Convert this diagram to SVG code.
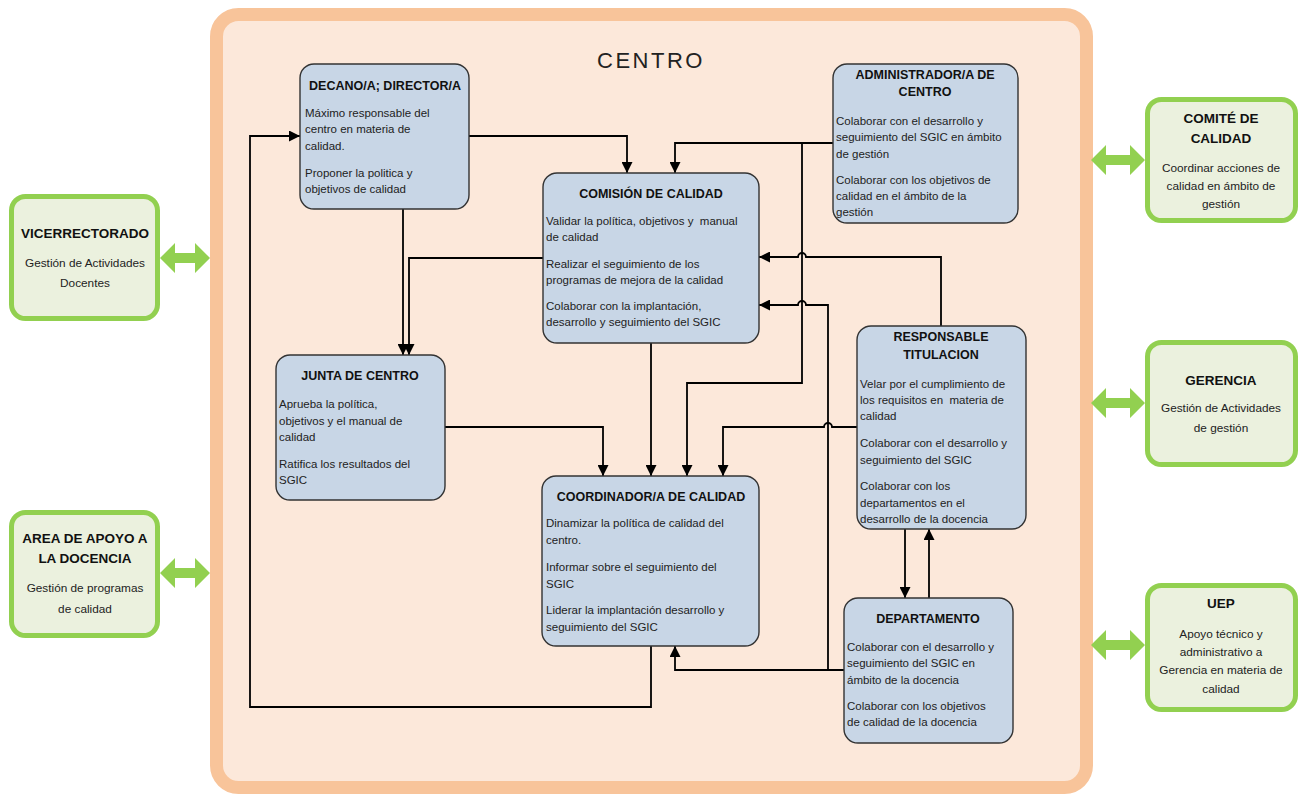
<svg xmlns="http://www.w3.org/2000/svg" width="1304" height="795" viewBox="0 0 1304 795">
<defs>
<style>
.box{fill:#C8D6E6;stroke:#333;stroke-width:1.4}
.gbox{fill:#EBF1DE;stroke:#92D050;stroke-width:5}
.t{font-family:"Liberation Sans",Arial,sans-serif;font-size:12.5px;font-weight:bold;fill:#111;text-anchor:middle}
.b{font-family:"Liberation Sans",Arial,sans-serif;font-size:11.5px;fill:#222;white-space:pre}
.gt{font-family:"Liberation Sans",Arial,sans-serif;font-size:13.5px;font-weight:bold;fill:#111;text-anchor:middle}
.gb{font-family:"Liberation Sans",Arial,sans-serif;font-size:11.8px;fill:#222;text-anchor:middle}
.c{fill:none;stroke:#000;stroke-width:1.8}
.da{fill:#92D050}
</style>
<marker id="ah" viewBox="0 0 10 10" refX="10" refY="5" markerWidth="11" markerHeight="11" markerUnits="userSpaceOnUse" orient="auto"><path d="M0,0 L10,5 L0,10 z" fill="#000"/></marker>
</defs>
<rect width="1304" height="795" fill="#fff"/>
<g id="centro">
<rect x="216.5" y="14.5" width="870" height="773" rx="22" fill="#FCE8DA" stroke="#F8C49A" stroke-width="13"/>
<text x="651" y="68" font-family="'Liberation Sans',Arial,sans-serif" font-size="22" letter-spacing="2.5" fill="#222" text-anchor="middle">CENTRO</text>
</g>
<g id="connectors">
<path class="c" d="M469,136 H627 V173" marker-end="url(#ah)"/>
<path class="c" d="M651,646 V707 H250 V136 H300" marker-end="url(#ah)"/>
<path class="c" d="M403,209 V355" marker-end="url(#ah)"/>
<path class="c" d="M543,258 H409 V355" marker-end="url(#ah)"/>
<path class="c" d="M833,143 H675 V173" marker-end="url(#ah)"/>
<path class="c" d="M802,143 V383 H687 V476" marker-end="url(#ah)"/>
<path class="c" d="M941,326 V257 H806 A4,4 0 0 0 798,257 H759" marker-end="url(#ah)"/>
<path class="c" d="M844,670 H675 V646" marker-end="url(#ah)"/>
<path class="c" d="M828,670 V305 H806 A4,4 0 0 0 798,305 H759" marker-end="url(#ah)"/>
<path class="c" d="M857,427 H832 A4,4 0 0 0 824,427 H723 V476" marker-end="url(#ah)"/>
<path class="c" d="M651,343 V476" marker-end="url(#ah)"/>
<path class="c" d="M445,427 H603 V476" marker-end="url(#ah)"/>
<path class="c" d="M905,529 V598" marker-end="url(#ah)"/>
<path class="c" d="M929,598 V529" marker-end="url(#ah)"/>
<polygon class="da" points="160,258 175,243 175,253 195,253 195,243 210,258 195,273 195,263 175,263 175,273"/>
<polygon class="da" points="160,573 175,558 175,568 195,568 195,558 210,573 195,588 195,578 175,578 175,588"/>
<polygon class="da" points="1091,160 1106,145 1106,155 1130,155 1130,145 1145,160 1130,175 1130,165 1106,165 1106,175"/>
<polygon class="da" points="1091,403 1106,388 1106,398 1130,398 1130,388 1145,403 1130,418 1130,408 1106,408 1106,418"/>
<polygon class="da" points="1091,645 1106,630 1106,640 1130,640 1130,630 1145,645 1130,660 1130,650 1106,650 1106,660"/>
</g>
<g id="decano">
<rect class="box" x="300" y="64" width="169" height="145" rx="14"/>
<text class="t" x="385" y="90">DECANO/A; DIRECTOR/A</text>
<text class="b" x="305" y="117">Máximo responsable del</text>
<text class="b" x="305" y="133">centro en materia de</text>
<text class="b" x="305" y="150">calidad.</text>
<text class="b" x="305" y="177">Proponer la politica y</text>
<text class="b" x="305" y="193">objetivos de calidad</text>
</g>
<g id="comision">
<rect class="box" x="543" y="173" width="216" height="170" rx="14"/>
<text class="t" x="651" y="198">COMISIÓN DE CALIDAD</text>
<text class="b" x="546" y="225">Validar la política, objetivos y  manual</text>
<text class="b" x="546" y="241">de calidad</text>
<text class="b" x="546" y="268">Realizar el seguimiento de los</text>
<text class="b" x="546" y="284">programas de mejora de la calidad</text>
<text class="b" x="546" y="310">Colaborar con la implantación,</text>
<text class="b" x="546" y="326">desarrollo y seguimiento del SGIC</text>
</g>
<g id="administrador">
<rect class="box" x="833" y="64" width="185" height="159" rx="14"/>
<text class="t" x="925" y="79">ADMINISTRADOR/A DE</text>
<text class="t" x="925" y="96">CENTRO</text>
<text class="b" x="836" y="125">Colaborar con el desarrollo y</text>
<text class="b" x="836" y="141">seguimiento del SGIC en ámbito</text>
<text class="b" x="836" y="158">de gestión</text>
<text class="b" x="836" y="184">Colaborar con los objetivos de</text>
<text class="b" x="836" y="200">calidad en el ámbito de la</text>
<text class="b" x="836" y="216">gestión</text>
</g>
<g id="responsable">
<rect class="box" x="857" y="326" width="169" height="203" rx="14"/>
<text class="t" x="941" y="341">RESPONSABLE</text>
<text class="t" x="941" y="359">TITULACION</text>
<text class="b" x="860" y="388">Velar por el cumplimiento de</text>
<text class="b" x="860" y="404">los requisitos en  materia de</text>
<text class="b" x="860" y="420">calidad</text>
<text class="b" x="860" y="447">Colaborar con el desarrollo y</text>
<text class="b" x="860" y="464">seguimiento del SGIC</text>
<text class="b" x="860" y="490">Colaborar con los</text>
<text class="b" x="860" y="507">departamentos en el</text>
<text class="b" x="860" y="523">desarrollo de la docencia</text>
</g>
<g id="junta">
<rect class="box" x="276" y="355" width="169" height="145" rx="14"/>
<text class="t" x="360" y="380">JUNTA DE CENTRO</text>
<text class="b" x="279" y="408">Aprueba la política,</text>
<text class="b" x="279" y="425">objetivos y el manual de</text>
<text class="b" x="279" y="441">calidad</text>
<text class="b" x="279" y="468">Ratifica los resultados del</text>
<text class="b" x="279" y="484">SGIC</text>
</g>
<g id="coordinador">
<rect class="box" x="542" y="476" width="217" height="170" rx="14"/>
<text class="t" x="651" y="501">COORDINADOR/A DE CALIDAD</text>
<text class="b" x="546" y="527">Dinamizar la política de calidad del</text>
<text class="b" x="546" y="544">centro.</text>
<text class="b" x="546" y="571">Informar sobre el seguimiento del</text>
<text class="b" x="546" y="588">SGIC</text>
<text class="b" x="546" y="614">Liderar la implantación desarrollo y</text>
<text class="b" x="546" y="631">seguimiento del SGIC</text>
</g>
<g id="departamento">
<rect class="box" x="844" y="598" width="169" height="145" rx="14"/>
<text class="t" x="928" y="623">DEPARTAMENTO</text>
<text class="b" x="847" y="651">Colaborar con el desarrollo y</text>
<text class="b" x="847" y="667">seguimiento del SGIC en</text>
<text class="b" x="847" y="684">ámbito de la docencia</text>
<text class="b" x="847" y="710">Colaborar con los objetivos</text>
<text class="b" x="847" y="726">de calidad de la docencia</text>
</g>
<g id="vicerrectorado">
<rect class="gbox" x="11.5" y="196.5" width="146" height="122" rx="14"/>
<text class="gt" x="85" y="238">VICERRECTORADO</text>
<text class="gb" x="85" y="267">Gestión de Actividades</text>
<text class="gb" x="85" y="287">Docentes</text>
</g>
<g id="area-apoyo">
<rect class="gbox" x="11.5" y="512.5" width="146" height="123" rx="14"/>
<text class="gt" x="85" y="543">AREA DE APOYO A</text>
<text class="gt" x="85" y="563">LA DOCENCIA</text>
<text class="gb" x="85" y="592">Gestión de programas</text>
<text class="gb" x="85" y="613">de calidad</text>
</g>
<g id="comite">
<rect class="gbox" x="1147.5" y="99.5" width="148" height="121" rx="14"/>
<text class="gt" x="1221" y="123">COMITÉ DE</text>
<text class="gt" x="1221" y="143">CALIDAD</text>
<text class="gb" x="1221" y="172">Coordinar acciones de</text>
<text class="gb" x="1221" y="190">calidad en ámbito de</text>
<text class="gb" x="1221" y="208">gestión</text>
</g>
<g id="gerencia">
<rect class="gbox" x="1147.5" y="342.5" width="148" height="122" rx="14"/>
<text class="gt" x="1221" y="385">GERENCIA</text>
<text class="gb" x="1221" y="412">Gestión de Actividades</text>
<text class="gb" x="1221" y="432">de gestión</text>
</g>
<g id="uep">
<rect class="gbox" x="1147.5" y="585.5" width="148" height="124" rx="14"/>
<text class="gt" x="1221" y="608">UEP</text>
<text class="gb" x="1221" y="638">Apoyo técnico y</text>
<text class="gb" x="1221" y="656">administrativo a</text>
<text class="gb" x="1221" y="674">Gerencia en materia de</text>
<text class="gb" x="1221" y="693">calidad</text>
</g>
</svg>
